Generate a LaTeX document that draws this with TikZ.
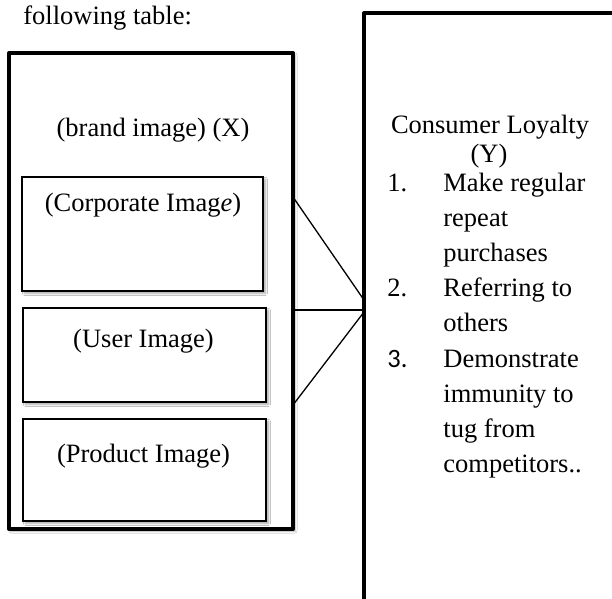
\documentclass[tikz,border=0pt]{standalone}
\usepackage{fontspec}
\setmainfont{Liberation Serif}
\newfontfamily\numfont{Carlito}
\usetikzlibrary{shadows.blur}
\begin{document}
\begin{tikzpicture}[x=0.5pt,y=-0.5pt,
  every node/.style={font=\fontsize{13.25}{15}\selectfont},
  bigbox/.style={draw, line width=2pt, line join=round, inner sep=0pt, outer sep=0pt},
  subbox/.style={draw, line width=0.75pt, fill=white, inner sep=0pt, outer sep=0pt,
    blur shadow={shadow xshift=1.2pt, shadow yshift=-1.2pt, shadow blur steps=5,
      shadow blur radius=1pt, shadow opacity=35}},
  link/.style={line width=0.65pt},
  txt/.style={inner sep=0pt, anchor=base},
  item/.style={inner sep=0pt, anchor=base west}]
\useasboundingbox (0,0) rectangle (612,599);
\clip (0,0) rectangle (612,599);
\fill[white] (0,0) rectangle (612,599);

% caption line above the diagram
\node[item] (cap) at (23,25) {following table:};

% independent variable block
\node[bigbox, minimum width=142pt, minimum height=238pt,
  blur shadow={shadow xshift=1pt, shadow yshift=-1pt, shadow blur steps=5,
    shadow blur radius=1pt, shadow opacity=30}, fill=white] (X) at (151,291) {};
\node[txt] (xt) at (153,137) {(brand image) (X)};

\node[subbox, minimum width=120.5pt, minimum height=57pt] (corp) at (142.5,234) {};
\node[txt] (corpt) at (143,212) {(Corporate Imag\textit{e})};

\node[subbox, minimum width=121.5pt, minimum height=47pt] (user) at (144.5,355) {};
\node[txt] (usert) at (143.5,348) {(User Image)};

\node[subbox, minimum width=121.5pt, minimum height=51pt] (prod) at (144.5,470) {};
\node[txt] (prodt) at (143.5,463) {(Product Image)};

% dependent variable block (runs past the frame)
\node[bigbox, minimum width=138pt, minimum height=303.25pt] (Y) at (502,316.75) {};
\node[txt] (yt1) at (490,134) {Consumer Loyalty};
\node[txt] (yt2) at (489,163) {(Y)};

\node[item] (n1) at (387,192) {1.};
\node[item] (i1a) at (443,192) {Make regular};
\node[item] (i1b) at (443,227) {repeat};
\node[item] (i1c) at (443,262) {purchases};
\node[item] (n2) at (387,297) {2.};
\node[item] (i2a) at (443,297) {Referring to};
\node[item] (i2b) at (443,332) {others};
\node[item] (n3) at (387,368) {\numfont 3.};
\node[item] (i3a) at (443,368) {Demonstrate};
\node[item] (i3b) at (443,403) {immunity to};
\node[item] (i3c) at (443,438) {tug from};
\node[item] (i3d) at (443,473) {competitors..};

% connectors between the two blocks
\coordinate (a1) at (X.east |- 0,197);
\coordinate (a2) at (X.east |- 0,310);
\coordinate (a3) at (X.east |- 0,405);
\coordinate (b1) at (Y.west |- 0,300);
\coordinate (b2) at (Y.west |- 0,310);
\coordinate (b3) at (Y.west |- 0,312);
\draw[link] (a1) -- (b1);
\draw[link] (a2) -- (b2);
\draw[link] (a3) -- (b3);
\end{tikzpicture}
\end{document}
